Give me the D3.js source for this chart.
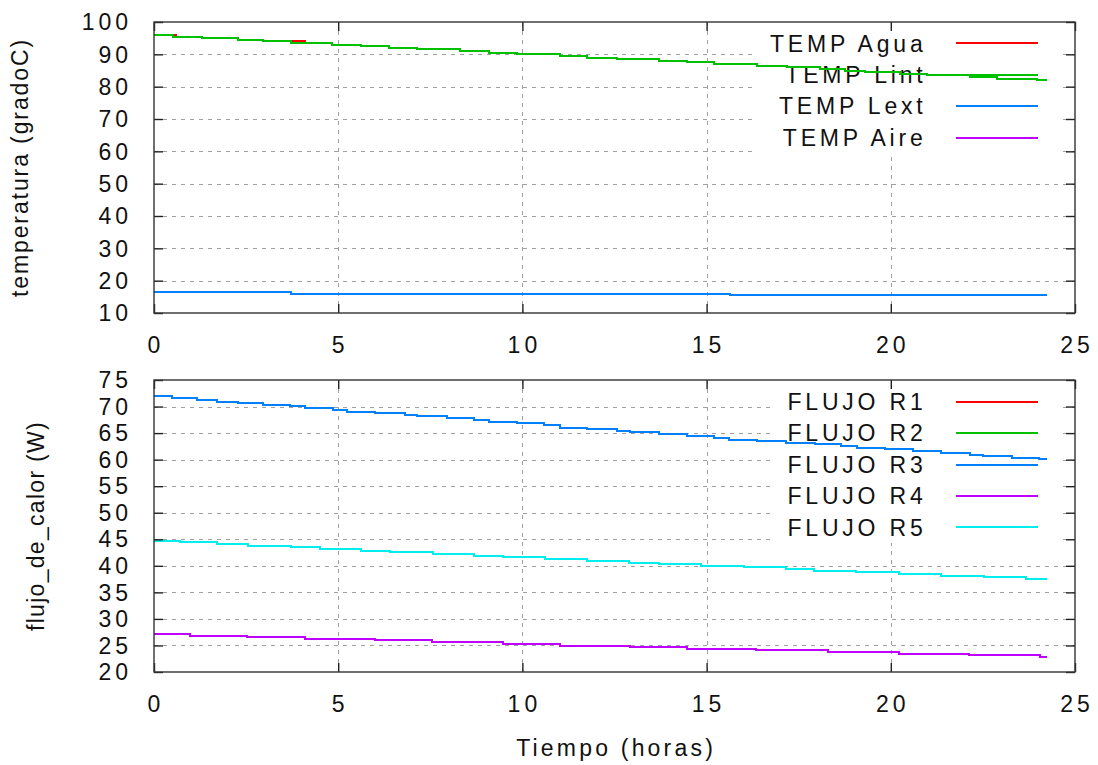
<!DOCTYPE html>
<html>
<head>
<meta charset="utf-8">
<script src="https://cdn.jsdelivr.net/npm/d3@7"></script>
<style>
  html, body { margin: 0; padding: 0; background: #fff; }
  svg { display: block; }
  text { font-family: "Liberation Sans", Arial, sans-serif; fill: #111; }
</style>
</head>
<body>
<svg id="chart" width="1098" height="765"></svg>
<script>
// ---------------- DATA ----------------
const xTicks = [0, 5, 10, 15, 20, 25];
const tempTicks = [10, 20, 30, 40, 50, 60, 70, 80, 90, 100];
const fluxTicks = [20, 25, 30, 35, 40, 45, 50, 55, 60, 65, 70, 75];

const tempLabels = ["TEMP Agua", "TEMP Lint", "TEMP Lext", "TEMP Aire"];
const fluxLabels = ["FLUJO R1", "FLUJO R2", "FLUJO R3", "FLUJO R4", "FLUJO R5"];

// [hours, value] pairs (stair-step data)
const tempAgua = [[0,96],[0.60,95.5],[1.29,95],[2.28,94.5],[2.95,94],[4.11,93.5],[4.83,93],[5.63,92.5],[6.38,92],[7.14,91.5],[8.30,91],[9.09,90.5],[9.84,90],[11.01,89.5],[11.75,89],[12.57,88.5],[13.72,88],[14.47,87.5],[15.21,87],[16.36,86.5],[17.18,86],[18.07,85.5],[18.75,85],[19.29,84.5],[20.24,84],[20.97,83.5],[22.14,83],[22.89,82.5],[23.96,82],[24.23,82]];
const tempLint = [[0,96],[0.52,95.5],[1.29,95],[2.28,94.5],[2.95,94],[3.71,93.5],[4.83,93],[5.63,92.5],[6.38,92],[7.14,91.5],[8.30,91],[9.09,90.5],[9.84,90],[11.01,89.5],[11.75,89],[12.57,88.5],[13.72,88],[14.47,87.5],[15.21,87],[16.36,86.5],[17.18,86],[18.07,85.5],[18.75,85],[19.29,84.5],[20.24,84],[20.97,83.5],[22.14,83],[22.89,82.5],[23.96,82],[24.23,82]];
const tempLext = [[0,16.5],[3.71,16],[15.63,15.5],[24.25,15.5]];
const tempAire = [];

const fluxR1 = [];
const fluxR2 = [];
const fluxR3 = [[0,72],[0.48,71.55],[1.16,71.23],[1.70,70.91],[2.29,70.61],[2.97,70.35],[3.69,70.05],[4.10,69.67],[4.85,69.35],[5.23,69.03],[6.00,68.73],[6.81,68.41],[7.14,68.16],[7.94,67.84],[8.69,67.47],[9.10,67.15],[9.84,66.84],[10.58,66.47],[11.01,66.0],[11.75,65.75],[12.57,65.41],[12.91,65.16],[13.72,64.77],[14.47,64.45],[15.21,64.1],[15.62,63.79],[16.36,63.52],[17.15,63.2],[17.93,62.89],[18.65,62.57],[19.08,62.23],[19.83,61.91],[20.61,61.59],[21.36,61.27],[22.14,60.93],[22.51,60.61],[23.29,60.35],[24.01,60.15],[24.24,60.15]];
const fluxR4 = [[0,27.16],[0.98,26.84],[2.53,26.54],[4.10,26.28],[6.00,25.97],[7.54,25.65],[9.46,25.33],[11.01,24.97],[12.91,24.71],[14.47,24.39],[16.35,24.09],[18.30,23.77],[20.21,23.45],[22.11,23.15],[24.04,22.82],[24.23,22.82]];
const fluxR5 = [[0,44.73],[0.71,44.43],[1.70,44.11],[2.56,43.79],[3.71,43.49],[4.50,43.17],[5.63,42.85],[6.40,42.55],[7.56,42.23],[8.69,41.91],[9.46,41.60],[10.61,41.23],[11.74,40.88],[12.89,40.59],[13.71,40.28],[14.86,40.02],[16.01,39.78],[17.15,39.40],[17.91,39.08],[19.06,38.78],[20.22,38.46],[21.37,38.14],[22.52,37.84],[23.68,37.52],[24.23,37.52]];

const colors = ["#ff0000", "#00c000", "#0080ff", "#c000ff", "#00eeee"];

// ---------------- LAYOUT ----------------
const svg = d3.select("#chart");
const FS = 23;
const LS_NUM = 4, LS_KEY = 3.8, LS_XT = 3.2;
const X0 = 154, X1 = 1075;
const x = d3.scaleLinear().domain([0, 25]).range([X0, X1]);

const panels = [
  { id: "t", top: 22, bottom: 313, domain: [10, 100], ticks: tempTicks,
    series: [tempAgua, tempLint, tempLext, tempAire], labels: tempLabels,
    title: "temperatura (gradoC)", titleX: 28, titleLS: 1.9,
    legendRow0: 43.3, legendLeft: 755 },
  { id: "b", top: 380, bottom: 672, domain: [20, 75], ticks: fluxTicks,
    series: [fluxR1, fluxR2, fluxR3, fluxR4, fluxR5], labels: fluxLabels,
    title: "flujo_de_calor (W)", titleX: 44, titleLS: 1.3,
    legendRow0: 401.7, legendLeft: 773 }
];

const rowH = 31.4;

panels.forEach(p => {
  const y = d3.scaleLinear().domain(p.domain).range([p.bottom, p.top]);
  const g = svg.append("g");

  svg.append("clipPath").attr("id", "clip-" + p.id)
    .append("rect").attr("x", X0).attr("y", p.top)
    .attr("width", X1 - X0).attr("height", p.bottom - p.top);

  // grid
  const grid = g.append("g").attr("stroke", "#a0a0a0").attr("stroke-width", 1)
    .attr("stroke-dasharray", "4,5");
  grid.selectAll("line.v").data(xTicks.filter(t => t > 0 && t < 25)).join("line")
    .attr("x1", d => Math.round(x(d)) + 0.5).attr("x2", d => Math.round(x(d)) + 0.5)
    .attr("y1", p.top).attr("y2", p.bottom);
  const dom = p.domain;
  grid.selectAll("line.h").data(p.ticks.filter(t => t > dom[0] && t < dom[1])).join("line")
    .attr("x1", X0).attr("x2", X1)
    .attr("y1", d => Math.round(y(d)) + 0.5).attr("y2", d => Math.round(y(d)) + 0.5);

  // legend (opaque box)
  const n = p.labels.length;
  const boxTop = p.legendRow0 - rowH / 2;
  g.append("rect").attr("x", p.legendLeft).attr("y", p.top + 1)
    .attr("width", 1058 - p.legendLeft)
    .attr("height", boxTop + n * rowH - (p.top + 1))
    .attr("fill", "#fff");
  p.labels.forEach((lab, i) => {
    const ry = p.legendRow0 + i * rowH;
    g.append("text").attr("x", 922.7 + LS_KEY).attr("y", ry + 8.3)
      .attr("text-anchor", "end").attr("font-size", FS)
      .attr("letter-spacing", LS_KEY).text(lab);
    g.append("line").attr("x1", 956).attr("x2", 1038)
      .attr("y1", ry).attr("y2", ry)
      .attr("stroke", colors[i]).attr("stroke-width", 2)
      .attr("shape-rendering", "crispEdges");
  });

  // data lines
  const line = d3.line().x(d => x(d[0])).y(d => y(d[1])).curve(d3.curveStepAfter);
  const dl = g.append("g").attr("clip-path", "url(#clip-" + p.id + ")");
  p.series.forEach((s, i) => {
    if (!s.length) return;
    dl.append("path").datum(s).attr("d", line)
      .attr("fill", "none").attr("stroke", colors[i]).attr("stroke-width", 2)
      .attr("shape-rendering", "crispEdges");
  });

  // axes via d3 (ticks inward, mirrored)
  const tl = 9;
  const left = d3.axisLeft(y).tickValues(p.ticks).tickSize(-tl).tickFormat("");
  const right = d3.axisRight(y).tickValues(p.ticks).tickSize(-tl).tickFormat("");
  const bottom = d3.axisBottom(x).tickValues(xTicks).tickSize(-tl).tickFormat("");
  const top = d3.axisTop(x).tickValues(xTicks).tickSize(-tl).tickFormat("");
  [[left, `translate(${X0},0)`], [right, `translate(${X1},0)`],
   [bottom, `translate(0,${p.bottom})`], [top, `translate(0,${p.top})`]].forEach(([ax, tr]) => {
    const a = g.append("g").attr("transform", tr).call(ax);
    a.select(".domain").remove();
    a.selectAll("line").attr("stroke", "#222").attr("stroke-width", 1.4);
  });

  // border
  g.append("rect").attr("x", X0).attr("y", p.top)
    .attr("width", X1 - X0).attr("height", p.bottom - p.top)
    .attr("fill", "none").attr("stroke", "#333").attr("stroke-width", 1.4);

  // tick labels
  g.selectAll("text.yl").data(p.ticks).join("text")
    .attr("x", 128 + LS_NUM).attr("y", d => y(d) + 8.2)
    .attr("text-anchor", "end").attr("font-size", FS).attr("letter-spacing", LS_NUM)
    .text(d => d);
  g.selectAll("text.xl").data(xTicks).join("text")
    .attr("x", d => x(d) + LS_NUM / 2).attr("y", p.bottom + 40)
    .attr("text-anchor", "middle").attr("font-size", FS).attr("letter-spacing", LS_NUM)
    .text(d => d);

  // y title
  const cy = (p.top + p.bottom) / 2;
  g.append("text").attr("transform", `translate(${p.titleX},${cy}) rotate(-90)`)
    .attr("text-anchor", "middle").attr("font-size", FS).attr("letter-spacing", p.titleLS)
    .text(p.title);
});

svg.append("text").attr("x", (X0 + X1) / 2 + LS_XT / 2).attr("y", 756)
  .attr("text-anchor", "middle").attr("font-size", FS).attr("letter-spacing", LS_XT)
  .text("Tiempo (horas)");
</script>
</body>
</html>
